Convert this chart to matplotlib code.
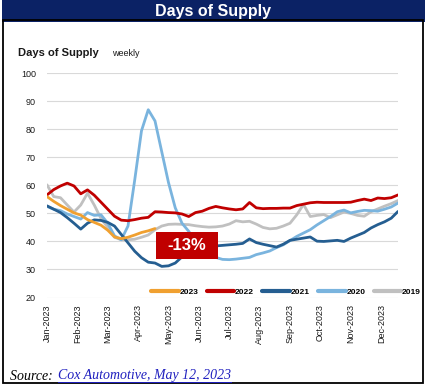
import numpy as np
import matplotlib
matplotlib.use("Agg")
import matplotlib.pyplot as plt
from matplotlib.patches import Rectangle

plt.rcParams['font.family'] = ['Liberation Sans', 'DejaVu Sans']

months = ["Jan-2023", "Feb-2023", "Mar-2023", "Apr-2023", "May-2023", "Jun-2023",
          "Jul-2023", "Aug-2023", "Sep-2023", "Oct-2023", "Nov-2023", "Dec-2023"]

s2023 = [56.0, 54.3, 52.8, 51.5, 50.2, 49.4, 47.8, 46.8, 45.8, 44.0, 41.6, 41.0, 41.5,
         42.3, 43.2, 43.8, 44.6]

s2022 = [56.6, 58.5, 59.8, 60.8, 59.8, 57.0, 58.4, 56.5, 54.0, 51.5, 49.0, 47.6, 47.4,
         47.8, 48.3, 48.6, 50.6, 50.5, 50.3, 50.2, 49.8, 48.9, 50.3, 50.8, 51.8, 52.5,
         52.0, 51.6, 51.3, 51.6, 53.9, 52.0, 51.7, 51.8, 51.8, 51.9, 51.9, 52.8, 53.3,
         53.8, 54.0, 53.9, 53.9, 53.9, 53.9, 54.0, 54.6, 55.1, 54.6, 55.5, 55.3, 55.6, 56.6]

s2021 = [52.7, 51.5, 50.3, 48.5, 46.5, 44.4, 46.5, 47.7, 47.5, 46.8, 45.5, 42.5, 39.5,
         36.5, 34.2, 32.6, 32.3, 31.1, 31.3, 32.3, 34.5, 36.5, 37.5, 38.0, 38.3, 38.4,
         38.6, 38.8, 39.0, 39.3, 40.9, 39.6, 39.0, 38.5, 38.0, 39.0, 40.4, 40.8, 41.2,
         41.6, 40.1, 40.0, 40.2, 40.4, 40.0, 41.2, 42.2, 43.2, 44.8, 46.0, 47.0, 48.3, 50.7]

s2020 = [52.5, 51.5, 51.0, 49.8, 48.9, 48.0, 50.3, 49.3, 49.5, 46.5, 42.0, 40.6, 45.5,
         62.0, 79.5, 87.0, 83.0, 72.0, 61.0, 52.0, 46.5, 43.6, 40.0, 37.0, 35.0, 34.3,
         33.6, 33.5, 33.7, 34.0, 34.3, 35.3, 35.9, 36.6, 37.8, 38.8, 40.3, 41.8, 43.0,
         44.2, 45.9, 47.4, 48.9, 50.6, 51.2, 50.2, 50.7, 51.1, 51.0, 50.8, 51.5, 52.3, 53.7]

s2019 = [60.2, 56.0, 55.6, 53.0, 50.5, 53.0, 57.2, 53.0, 48.2, 45.0, 41.5, 40.6, 40.6,
         40.8, 41.5, 42.3, 44.2, 45.5, 46.1, 46.2, 46.1, 46.0, 45.6, 45.3, 45.1, 45.2,
         45.5, 46.2, 47.4, 47.0, 47.2, 46.2, 45.0, 44.5, 44.7, 45.5, 46.5, 49.5, 53.2,
         48.9, 49.3, 49.6, 48.5, 49.5, 50.5, 50.0, 49.3, 49.0, 50.6, 51.6, 52.6, 53.5, 54.6]

series = [("2023", s2023, "#F0A030", 5),
          ("2022", s2022, "#C00000", 4),
          ("2021", s2021, "#255E91", 3),
          ("2020", s2020, "#7AB4DE", 2),
          ("2019", s2019, "#C0C0C0", 1)]

W, H = 427, 388
fig = plt.figure(figsize=(W / 100, H / 100), dpi=100)

def fx(px):
    return px / W

def fy(py):
    return 1 - py / H

# banner and frame
fig.patches.append(Rectangle((fx(2), fy(22)), fx(423), 22 / H, transform=fig.transFigure,
                             facecolor="#0B2265", edgecolor="none", zorder=0))
fig.patches.append(Rectangle((fx(3), fy(383)), fx(420), (383 - 20) / H, transform=fig.transFigure,
                             facecolor="none", edgecolor="black", lw=1.3, zorder=0))
fig.text(fx(213), fy(11.5), "Days of Supply", color="white", fontsize=11.5,
         fontweight="bold", ha="center", va="center")

fig.text(fx(18), fy(53.5), "Days of Supply", fontsize=8, fontweight="bold",
         ha="left", va="center", color="#1a1a1a")
fig.text(fx(112), fy(54), "weekly", fontsize=6.5, ha="left", va="center", color="#1a1a1a")

ax = fig.add_axes([fx(47), fy(297.5), fx(398) - fx(47), (297.5 - 73.3) / H])
weeks_per_month = 30.4 / 6.75
for name, vals, col, z in series:
    x = np.arange(len(vals))
    ax.plot(x, vals, color=col, lw=2.0, label=name, solid_capstyle="round", zorder=2 + z * 0.1)

ax.set_xlim(0, 52)
ax.set_ylim(20, 100)
ax.set_yticks(np.arange(20, 101, 10))
ax.grid(axis="y", color="#D9D9D9", lw=0.8)
ax.set_axisbelow(True)
for sp in ax.spines.values():
    sp.set_visible(False)
ax.tick_params(axis="both", length=0, labelsize=6.5, colors="#1a1a1a")
ax.tick_params(axis="y", pad=8)
ax.set_xticks(np.arange(12) * weeks_per_month)
ax.set_xticklabels(months, rotation=90)
ax.tick_params(axis="x", pad=5)

# -13% callout
ax.add_patch(Rectangle((16.1, 33.9), 9.2, 9.6, facecolor="#C00000", edgecolor="none", zorder=5))
ax.text(20.7, 38.7, "-13%", color="white", fontsize=12, fontweight="bold",
        ha="center", va="center", zorder=6)

leg = fig.legend(loc="center", bbox_to_anchor=(fx(286), fy(292)), ncol=5, frameon=False,
                 handlelength=3.3, handletextpad=0.1, columnspacing=1.0,
                 prop={"weight": "bold", "size": 6})
for line in leg.get_lines():
    line.set_linewidth(3)

fig.text(fx(10), fy(376), "Source: ", fontsize=10, fontstyle="italic",
         family="Liberation Serif", ha="left", va="center")
fig.text(fx(58), fy(376), "Cox Automotive, May 12, 2023", fontsize=10, fontstyle="italic",
         family="Liberation Serif", ha="left", va="center", color="#1F1FBF")
fig.lines.append(plt.Line2D([fx(58), fx(231)], [fy(382), fy(382)], transform=fig.transFigure,
                            color="#1F1FBF", lw=0.7))

fig.savefig("out.png", dpi=100)
